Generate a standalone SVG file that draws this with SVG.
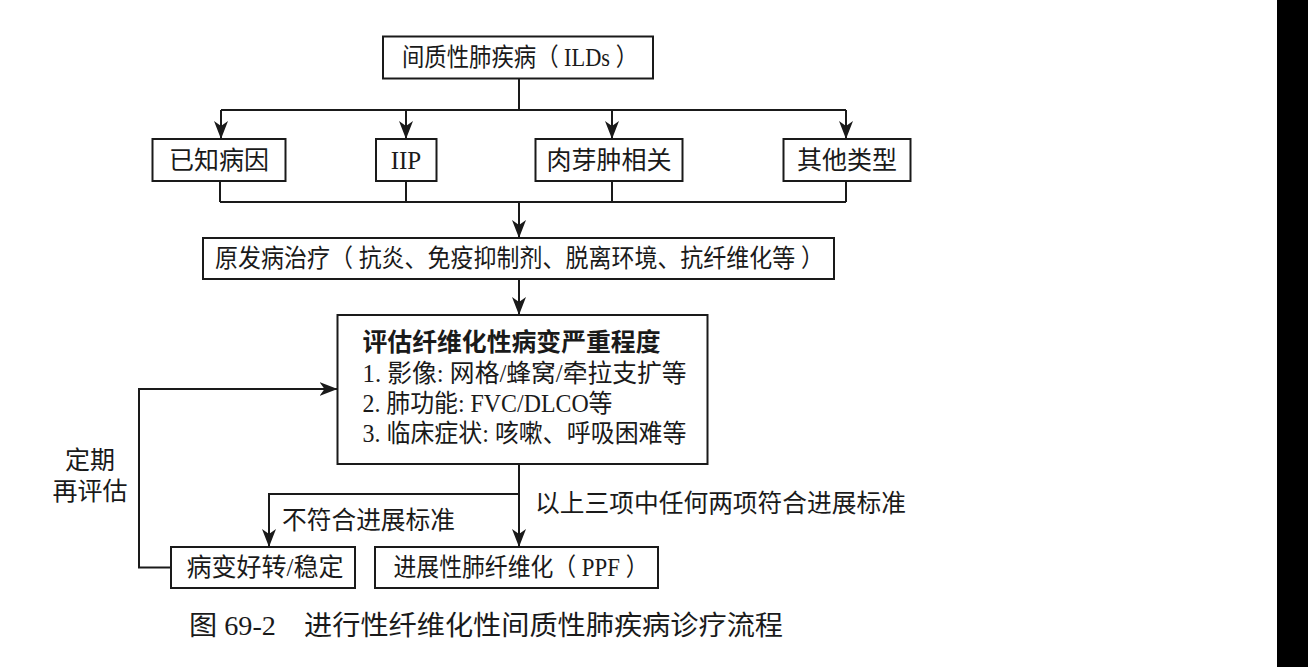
<svg xmlns="http://www.w3.org/2000/svg" width="1308" height="667" viewBox="0 0 1308 667">
<style>
.box{fill:#fff;stroke:#1a1a1a;stroke-width:2}
.ln{fill:none;stroke:#1a1a1a;stroke-width:2}
text{font-family:"Liberation Serif","Noto Sans CJK SC",serif;font-size:25px;fill:#1a1a1a;dominant-baseline:central}
.c{text-anchor:middle}
.b{font-weight:bold}
</style>
<defs>
<marker id="ah" viewBox="0 0 18 14" refX="18" refY="7" markerWidth="18" markerHeight="14" markerUnits="userSpaceOnUse" orient="auto">
<path d="M0,0 L18,7 L0,14 L5,7 Z" fill="#1a1a1a"/>
</marker>
</defs>
<rect width="1308" height="667" fill="#fff"/>
<rect x="1277" y="0" width="31" height="667" fill="#000"/>

<g id="connectors">
<path class="ln" d="M519,78 V110 M221,110 H846"/>
<path class="ln" d="M221,110 V139" marker-end="url(#ah)"/>
<path class="ln" d="M406,110 V139" marker-end="url(#ah)"/>
<path class="ln" d="M612,110 V139" marker-end="url(#ah)"/>
<path class="ln" d="M846,110 V139" marker-end="url(#ah)"/>
<path class="ln" d="M220,181 V202 M406,181 V202 M612,181 V202 M846,181 V202 M220,202 H846"/>
<path class="ln" d="M519,202 V238" marker-end="url(#ah)"/>
<path class="ln" d="M519,279 V315" marker-end="url(#ah)"/>
<path class="ln" d="M519,464 V547" marker-end="url(#ah)"/>
<path class="ln" d="M519,494 H269 V547" marker-end="url(#ah)"/>
<path class="ln" d="M171,567.5 H139 V389 H337.5" marker-end="url(#ah)"/>
<text x="90" y="460" class="c">定期</text>
<text x="90" y="491" class="c">再评估</text>
<text x="282" y="520" textLength="173" lengthAdjust="spacingAndGlyphs">不符合进展标准</text>
<text x="535" y="503" textLength="371" lengthAdjust="spacingAndGlyphs">以上三项中任何两项符合进展标准</text>
</g>

<g id="n-ilds">
<rect class="box" x="383" y="36.5" width="270" height="42"/>
<text x="520" y="57.5" class="c" textLength="236" lengthAdjust="spacingAndGlyphs">间质性肺疾病（ ILDs ）</text>
</g>
<g id="n-known">
<rect class="box" x="152.5" y="139" width="133" height="42"/>
<text x="219" y="160" class="c">已知病因</text>
</g>
<g id="n-iip">
<rect class="box" x="376" y="139" width="60.5" height="42"/>
<text x="406" y="160" class="c">IIP</text>
</g>
<g id="n-gran">
<rect class="box" x="535.5" y="139" width="147" height="42"/>
<text x="609" y="160" class="c">肉芽肿相关</text>
</g>
<g id="n-other">
<rect class="box" x="783.5" y="139" width="127" height="42"/>
<text x="847" y="160" class="c">其他类型</text>
</g>
<g id="n-treat">
<rect class="box" x="203" y="238" width="631" height="41"/>
<text x="215" y="258.5" textLength="609" lengthAdjust="spacingAndGlyphs">原发病治疗（ 抗炎、免疫抑制剂、脱离环境、抗纤维化等 ）</text>
</g>
<g id="n-eval">
<rect class="box" x="337.5" y="315" width="370" height="149"/>
<text x="362.5" y="342" class="b" textLength="298" lengthAdjust="spacingAndGlyphs">评估纤维化性病变严重程度</text>
<text x="362.5" y="373" textLength="324" lengthAdjust="spacingAndGlyphs">1. 影像: 网格/蜂窝/牵拉支扩等</text>
<text x="362.5" y="403" textLength="250" lengthAdjust="spacingAndGlyphs">2. 肺功能: FVC/DLCO等</text>
<text x="362.5" y="433" textLength="324" lengthAdjust="spacingAndGlyphs">3. 临床症状: 咳嗽、呼吸困难等</text>
</g>
<g id="n-stable">
<rect class="box" x="171" y="547" width="184" height="41"/>
<text x="265" y="567.5" class="c">病变好转/稳定</text>
</g>
<g id="n-ppf">
<rect class="box" x="375" y="547" width="283" height="41"/>
<text x="521" y="567.5" class="c" textLength="255" lengthAdjust="spacingAndGlyphs">进展性肺纤维化（ PPF ）</text>
</g>
<text x="189" y="626" style="font-size:27px" textLength="594" lengthAdjust="spacingAndGlyphs">图 69-2　进行性纤维化性间质性肺疾病诊疗流程</text>
</svg>
